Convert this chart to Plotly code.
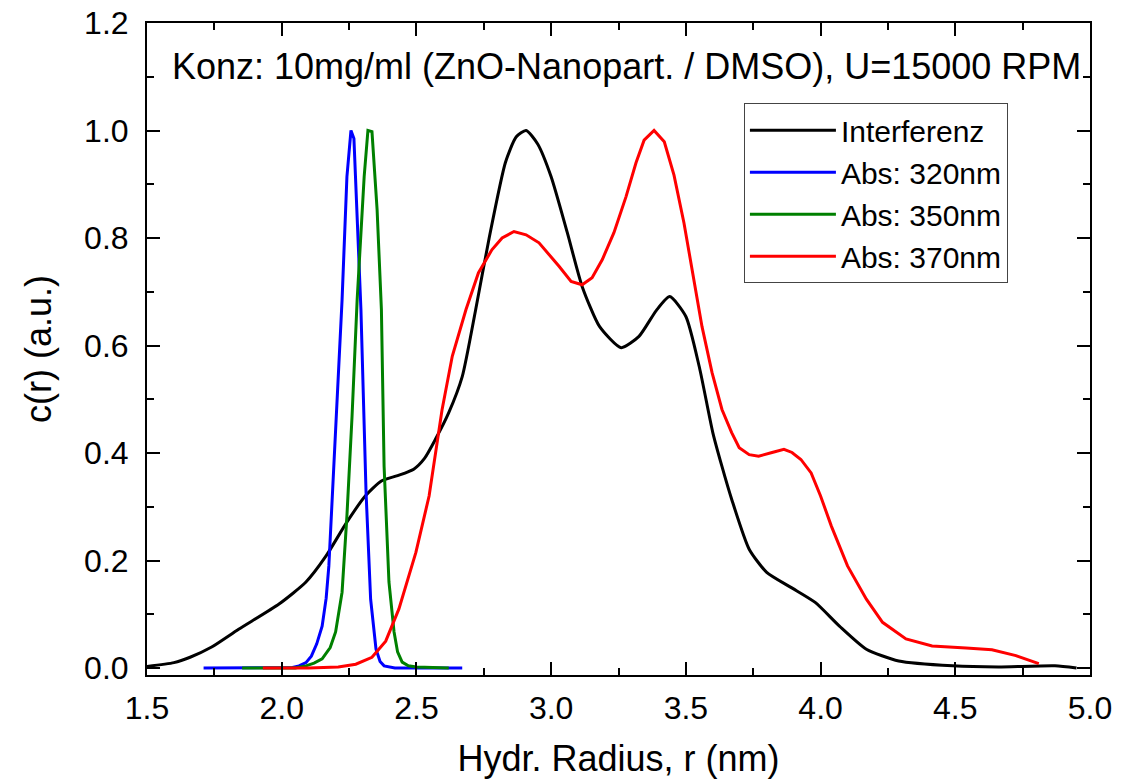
import plotly.graph_objects as go

# Interferenz (black)
x_int = [1.50, 1.60, 1.66, 1.74, 1.84, 1.99, 2.09, 2.164, 2.24, 2.31, 2.37, 2.43, 2.49, 2.53, 2.57, 2.62, 2.67,
         2.72, 2.77, 2.83, 2.87, 2.907, 2.95, 3.0, 3.06, 3.115, 3.18, 3.26, 3.326, 3.39, 3.44, 3.50, 3.55,
         3.60, 3.634, 3.67, 3.735, 3.80, 3.89, 3.98, 4.07, 4.17, 4.29, 4.49, 4.66, 4.87, 4.95]
y_int = [0.003, 0.010, 0.020, 0.039, 0.072, 0.119, 0.160, 0.208, 0.270, 0.320, 0.348, 0.358, 0.370, 0.390, 0.425, 0.475, 0.542,
         0.667, 0.800, 0.940, 0.988, 1.000, 0.975, 0.914, 0.810, 0.710, 0.635, 0.596, 0.617, 0.665, 0.691, 0.654, 0.560,
         0.438, 0.375, 0.314, 0.221, 0.178, 0.150, 0.122, 0.078, 0.035, 0.013, 0.004, 0.002, 0.004, 0.000]

# Abs: 320nm (blue)
x_320 = [1.71, 2.00, 2.04, 2.064, 2.09, 2.11, 2.13, 2.15, 2.165, 2.175, 2.194, 2.213, 2.224, 2.242, 2.257, 2.268,
         2.294, 2.313, 2.33, 2.35, 2.365, 2.38, 2.42, 2.67]
y_320 = [0.0, 0.0, 0.001, 0.004, 0.010, 0.022, 0.045, 0.078, 0.13, 0.19, 0.375, 0.561, 0.685, 0.914, 1.0, 0.985,
         0.667, 0.327, 0.128, 0.035, 0.012, 0.004, 0.0, 0.0]

# Abs: 350nm (green)
x_350 = [1.853, 2.05, 2.09, 2.12, 2.15, 2.18, 2.20, 2.224, 2.242, 2.261, 2.28, 2.306, 2.32, 2.335, 2.354, 2.37,
         2.38, 2.398, 2.417, 2.43, 2.447, 2.47, 2.50, 2.62]
y_350 = [0.0, 0.0, 0.004, 0.009, 0.017, 0.038, 0.067, 0.141, 0.283, 0.468, 0.685, 0.914, 1.0, 0.998, 0.853, 0.667,
         0.375, 0.160, 0.067, 0.030, 0.011, 0.004, 0.002, 0.0]

# Abs: 370nm (red)
x_370 = [1.93, 2.10, 2.21, 2.275, 2.335, 2.386, 2.435, 2.498, 2.547, 2.595, 2.633, 2.684, 2.73, 2.78, 2.818, 2.862,
         2.907, 2.955, 3.03, 3.074, 3.115, 3.152, 3.19, 3.233, 3.278, 3.315, 3.345, 3.382, 3.42, 3.456, 3.493, 3.53,
         3.56, 3.597, 3.634, 3.67, 3.698, 3.735, 3.77, 3.82, 3.864, 3.894, 3.927, 3.965, 4.0, 4.04, 4.10, 4.17,
         4.23, 4.317, 4.414, 4.54, 4.636, 4.725, 4.81]
y_370 = [0.0, 0.0, 0.002, 0.007, 0.020, 0.050, 0.110, 0.215, 0.320, 0.480, 0.580, 0.667, 0.735, 0.778, 0.800, 0.812,
         0.806, 0.791, 0.747, 0.719, 0.713, 0.726, 0.760, 0.810, 0.877, 0.940, 0.982, 1.000, 0.979, 0.917, 0.828, 0.722,
         0.635, 0.550, 0.481, 0.438, 0.410, 0.397, 0.394, 0.401, 0.407, 0.401, 0.388, 0.363, 0.320, 0.264, 0.190, 0.128,
         0.085, 0.054, 0.041, 0.037, 0.034, 0.023, 0.008]

names = ["Interferenz", "Abs: 320nm", "Abs: 350nm", "Abs: 370nm"]
colors = ["#000000", "#0000ff", "#008000", "#ff0000"]

FONT = "Liberation Sans, Arial, sans-serif"

fig = go.Figure()
fig.add_trace(go.Scatter(x=x_int, y=y_int, mode="lines", name=names[0],
                         line=dict(color=colors[0], width=3, shape="spline", smoothing=0.6)))
fig.add_trace(go.Scatter(x=x_320, y=y_320, mode="lines", name=names[1],
                         line=dict(color=colors[1], width=3)))
fig.add_trace(go.Scatter(x=x_350, y=y_350, mode="lines", name=names[2],
                         line=dict(color=colors[2], width=3)))
fig.add_trace(go.Scatter(x=x_370, y=y_370, mode="lines", name=names[3],
                         line=dict(color=colors[3], width=3)))

axis_common = dict(showline=True, linecolor="black", linewidth=2, mirror="allticks",
                   ticks="inside", ticklen=13, tickwidth=2, tickcolor="black",
                   showgrid=False, zeroline=False, automargin=False,
                   tickfont=dict(family=FONT, size=32, color="black"))

fig.update_xaxes(range=[1.5, 5.0], tick0=1.5, dtick=0.5, tickformat=".1f",
                 minor=dict(ticks="inside", ticklen=7, dtick=0.25, tickwidth=2, tickcolor="black"),
                 title=dict(text="Hydr. Radius, r (nm)", font=dict(family=FONT, size=36, color="black"),
                            standoff=22),
                 ticklabelstandoff=4, **axis_common)
fig.update_yaxes(range=[-0.013, 1.2], tick0=0, dtick=0.2, tickformat=".1f",
                 minor=dict(ticks="inside", ticklen=7, dtick=0.1, tickwidth=2, tickcolor="black"),
                 title=dict(text="c(r) (a.u.)", font=dict(family=FONT, size=36, color="black"),
                            standoff=22),
                 ticklabelstandoff=10, **axis_common)

fig.add_annotation(text="Konz: 10mg/ml (ZnO-Nanopart. / DMSO), U=15000 RPM",
                   xref="paper", yref="paper", x=0.509, y=0.934, showarrow=False,
                   xanchor="center", yanchor="middle",
                   font=dict(family=FONT, size=36, color="black"))

fig.update_layout(
    width=1135, height=779,
    margin=dict(l=147, r=45, t=23, b=104),
    plot_bgcolor="white", paper_bgcolor="white",
    showlegend=True,
    legend=dict(x=0.633, y=0.877, xanchor="left", yanchor="top",
                bordercolor="#444444", borderwidth=1, bgcolor="white",
                font=dict(family=FONT, size=30, color="black"),
                itemwidth=86, tracegroupgap=0),
)

fig.write_html("out.html")
